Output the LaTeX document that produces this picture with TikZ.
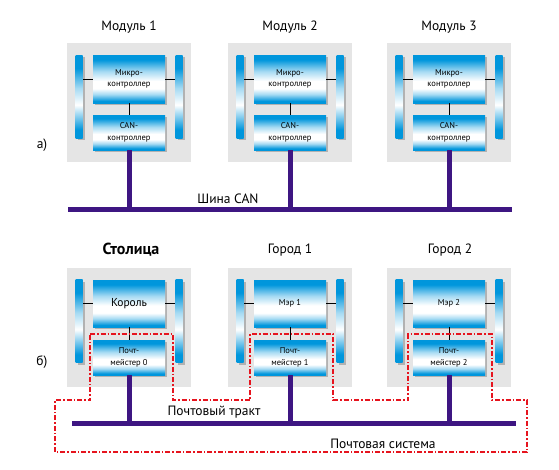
\documentclass[tikz,border=0pt]{standalone}
\usepackage{fontspec}
\setmainfont{PT Sans}
\usetikzlibrary{shadows}

\definecolor{modblue}{RGB}{0,150,220}
\colorlet{modpale}{modblue!35}
\definecolor{busviolet}{RGB}{62,22,130}
\definecolor{postred}{RGB}{230,20,30}
\pgfdeclareverticalshading{boxshade}{100bp}{color(0bp)=(modblue); color(27bp)=(modblue); color(34bp)=(modpale); color(40bp)=(white); color(48bp)=(white); color(58bp)=(modpale); color(70bp)=(modblue); color(100bp)=(modblue)}
\pgfdeclareverticalshading{barshade}{100bp}{color(0bp)=(modblue); color(30bp)=(modblue); color(45bp)=(white); color(55bp)=(modpale); color(67bp)=(modblue); color(100bp)=(modblue)}
\newcommand\kingfont{\fontsize{11.5}{14}\selectfont}

\begin{document}
\begin{tikzpicture}[x=1pt,y=-1pt,
  every node/.style={inner sep=0pt},
  modarea/.style={fill=black!10,minimum width=124pt,minimum height=119pt},
  chipbox/.style={shading=boxshade,minimum width=72pt,align=center,
    font=\fontsize{8.5}{11.5}\selectfont,
    drop shadow={shadow xshift=2pt,shadow yshift=-2pt,fill=black!30,opacity=1}},
  sidebar/.style={shading=barshade,minimum width=7pt,minimum height=83pt,
    drop shadow={shadow xshift=2pt,shadow yshift=-2pt,fill=black!30,opacity=1}},
  bus/.style={line width=5pt,busviolet},
  title/.style={font=\fontsize{13.5}{16}\selectfont},
  buslabel/.style={font=\fontsize{13.5}{16}\selectfont}]
\useasboundingbox (0,0) rectangle (559,469);

% a) CAN
\coordinate (canL) at (68,209);
\coordinate (canR) at (512,209);
\foreach \i/\cx/\name in {1/129/Модуль 1,2/290/Модуль 2,3/449/Модуль 3}{
  \node[modarea] (ga\i) at (\cx,102.5) {};
  \node[title] (ta\i) at (\cx,27) {\name};
  \node[sidebar] (bla\i) at (\cx-50,96.5) {};
  \node[sidebar] (bra\i) at (\cx+50,96.5) {};
  \node[chipbox,minimum height=48pt] (mc\i) at (\cx,79) {Микро-\\контроллер};
  \node[chipbox,minimum height=35pt] (can\i) at (\cx,132.5) {CAN-\\контроллер};
  \draw (mc\i) -- (can\i);
  \draw (mc\i.west) -- (mc\i.west -| bla\i.east);
  \draw (mc\i.east) -- (mc\i.east -| bra\i.west);
  \draw[bus] (can\i.south) -- (can\i.south |- canL);
}
\draw[bus] (canL) -- (canR);
\node[buslabel] (canlabel) at (228,199) {Шина CAN};
\node[title] (lbla) at (42,145) {а)};

% b) post
\coordinate (postL) at (72,423);
\coordinate (postR) at (516,423);
\foreach \i/\cx/\chief in {0/129/\kingfont Король,1/290/Мэр 1,2/449/Мэр 2}{
  \node[modarea] (gb\i) at (\cx,327.5) {};
  \node[sidebar] (blb\i) at (\cx-50,321) {};
  \node[sidebar] (brb\i) at (\cx+50,321) {};
  \node[chipbox,minimum height=47pt] (boss\i) at (\cx,303.5) {\chief};
  \node[chipbox,minimum height=35pt] (pm\i) at (\cx,357.5) {Почт-\\мейстер \i};
  \draw (boss\i) -- (pm\i);
  \draw (boss\i.west) -- (boss\i.west -| blb\i.east);
  \draw (boss\i.east) -- (boss\i.east -| brb\i.west);
  \draw[bus] (pm\i.south) -- (pm\i.south |- postL);
}
\draw[bus] (postL) -- (postR);
\node[font=\fontsize{16}{19}\selectfont\bfseries] (tb0) at (131,250) {Столица};
\node[title] (tb1) at (290,250) {Город 1};
\node[title] (tb2) at (450,250) {Город 2};
\node[buslabel] (postlabel) at (214,412) {Почтовый тракт};
\node[buslabel] (syslabel) at (383,444) {Почтовая система};
\node[title] (lblb) at (42,362) {б)};

% post system outline
\draw[postred,line width=1.5pt,dash pattern=on 5pt off 2pt on 1.5pt off 2pt]
  (90,334) -- (173,334) -- (173,400) -- (250,400) -- (250,334) -- (333,334)
  -- (333,400) -- (408,400) -- (408,334) -- (492,334) -- (492,400)
  -- (527,400) -- (527,452) -- (55,452) -- (55,400) -- (90,400) -- cycle;
\end{tikzpicture}
\end{document}
